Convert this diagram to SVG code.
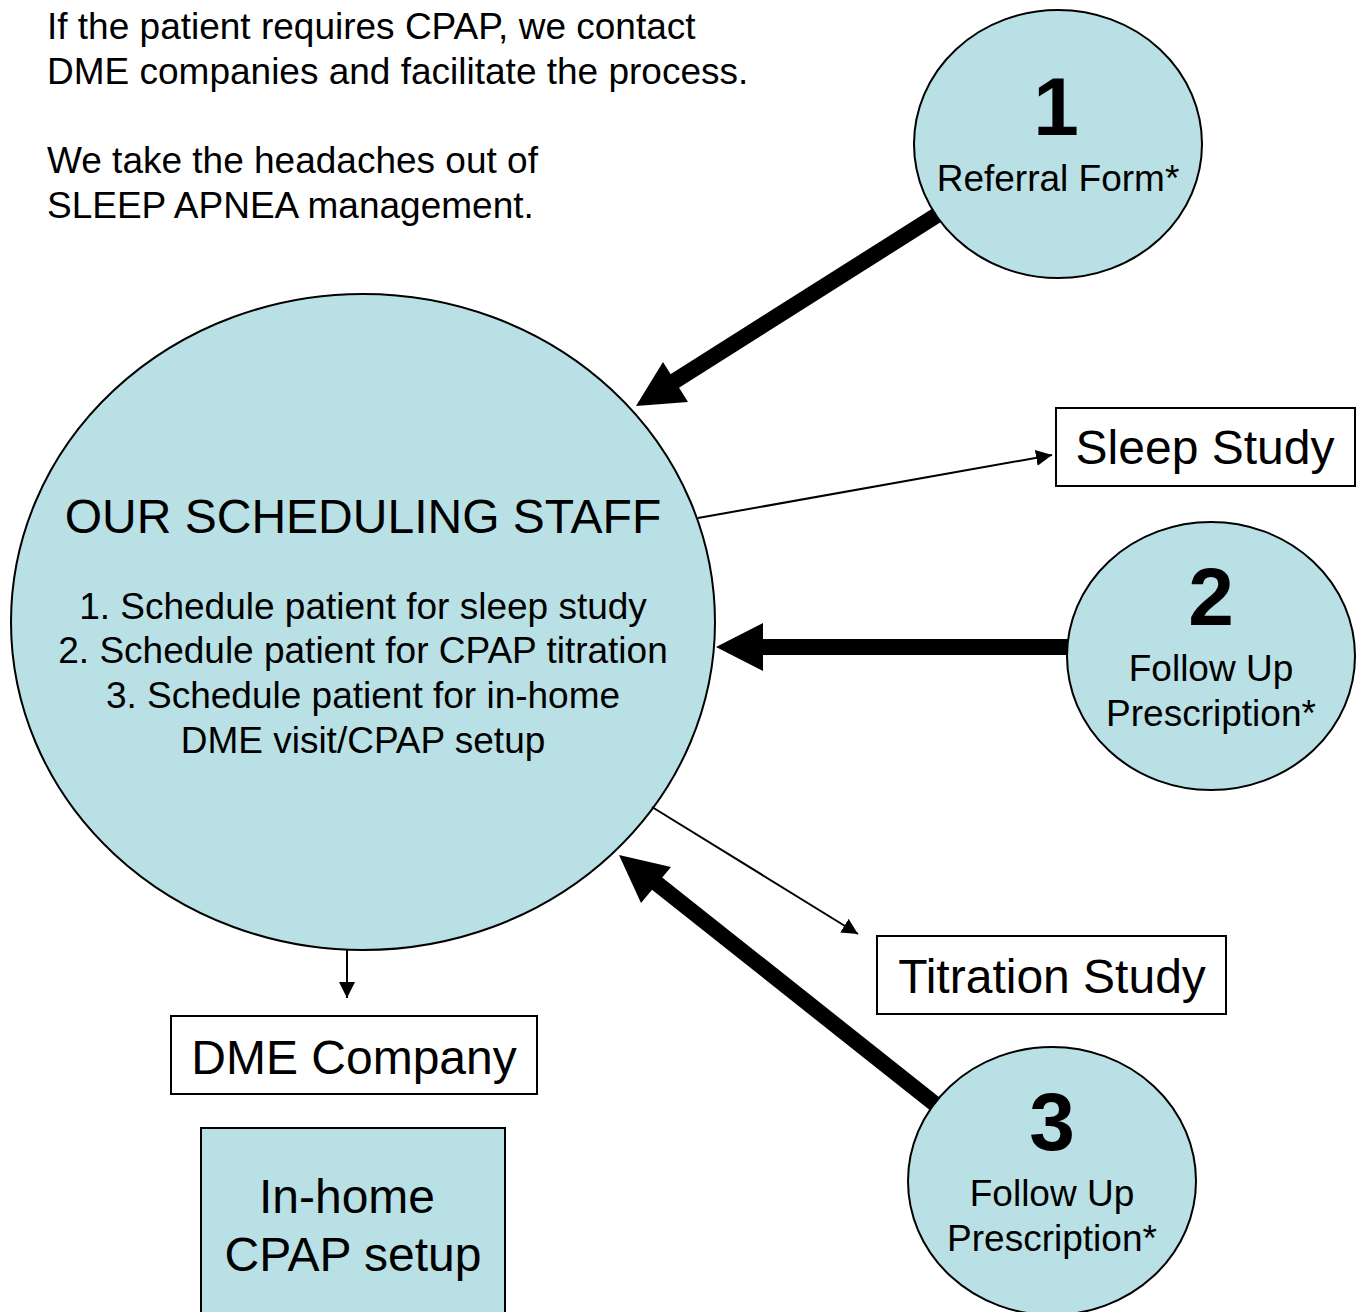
<svg xmlns="http://www.w3.org/2000/svg" width="1360" height="1312" viewBox="0 0 1360 1312">
<defs>
<style>
text{font-family:"Liberation Sans",Arial,sans-serif;fill:#000}
.node{fill:#b9e0e4;stroke:#000;stroke-width:2}
.box{fill:#fff;stroke:#000;stroke-width:2}
.thin{stroke:#000;stroke-width:2;fill:none}
.thick{stroke:#000;stroke-width:16;fill:none}
.c{text-anchor:middle}
.num{font-weight:bold;font-size:82px}
.t37{font-size:37px}
.t48{font-size:48px}
</style>
<marker id="sm" viewBox="0 0 10 10" refX="10" refY="5" markerWidth="16" markerHeight="16" markerUnits="userSpaceOnUse" orient="auto"><path d="M0,0L10,5L0,10z" fill="#000"/></marker>
</defs>
<rect width="1360" height="1312" fill="#fff"/>
<g id="intro">
<text class="t37" x="47" y="39">If the patient requires CPAP, we contact</text>
<text class="t37" x="47" y="84">DME companies and facilitate the process.</text>
<text class="t37" x="47" y="173">We take the headaches out of</text>
<text class="t37" x="47" y="218">SLEEP APNEA management.</text>
</g>
<g id="staff">
<ellipse class="node" cx="363" cy="622" rx="352" ry="328"/>
<text class="c t48" x="363" y="533">OUR SCHEDULING STAFF</text>
<text class="c t37" x="363" y="619">1. Schedule patient for sleep study</text>
<text class="c t37" x="363" y="663">2. Schedule patient for CPAP titration</text>
<text class="c t37" x="363" y="708">3. Schedule patient for in-home</text>
<text class="c t37" x="363" y="753">DME visit/CPAP setup</text>
</g>
<g id="connectors">
<line class="thin" x1="698" y1="518" x2="1052" y2="455" marker-end="url(#sm)"/>
<line class="thin" x1="652" y1="807" x2="858" y2="934" marker-end="url(#sm)"/>
<line class="thin" x1="347" y1="950" x2="347" y2="998" marker-end="url(#sm)"/>
<line class="thick" x1="945" y1="210" x2="670" y2="384"/>
<polygon points="636,406 663,362 688,402" fill="#000"/>
<line class="thick" x1="1070" y1="647" x2="755" y2="647"/>
<polygon points="716,647 763,623 763,671" fill="#000"/>
<line class="thick" x1="940" y1="1108" x2="650" y2="878"/>
<polygon points="619,855 671,867 641,903" fill="#000"/>
</g>
<g id="n1">
<ellipse class="node" cx="1058" cy="144" rx="144" ry="134"/>
<text class="c num" x="1056" y="135">1</text>
<text class="c t37" x="1058" y="191">Referral Form*</text>
</g>
<g id="n2">
<ellipse class="node" cx="1211" cy="656" rx="144" ry="134"/>
<text class="c num" x="1211" y="625">2</text>
<text class="c t37" x="1211" y="681">Follow Up</text>
<text class="c t37" x="1211" y="726">Prescription*</text>
</g>
<g id="n3">
<ellipse class="node" cx="1052" cy="1181" rx="144" ry="134"/>
<text class="c num" x="1052" y="1150">3</text>
<text class="c t37" x="1052" y="1206">Follow Up</text>
<text class="c t37" x="1052" y="1251">Prescription*</text>
</g>
<g id="sleep">
<rect class="box" x="1056" y="408" width="299" height="78"/>
<text class="c t48" x="1205" y="464">Sleep Study</text>
</g>
<g id="titration">
<rect class="box" x="877" y="936" width="349" height="78"/>
<text class="c t48" x="1052" y="993">Titration Study</text>
</g>
<g id="dme">
<rect class="box" x="171" y="1016" width="366" height="78"/>
<text class="c t48" x="354" y="1074">DME Company</text>
</g>
<g id="inhome">
<rect class="node" x="201" y="1128" width="304" height="200"/>
<text class="c t48" x="347" y="1213">In-home</text>
<text class="c t48" x="353" y="1271">CPAP setup</text>
</g>
</svg>
